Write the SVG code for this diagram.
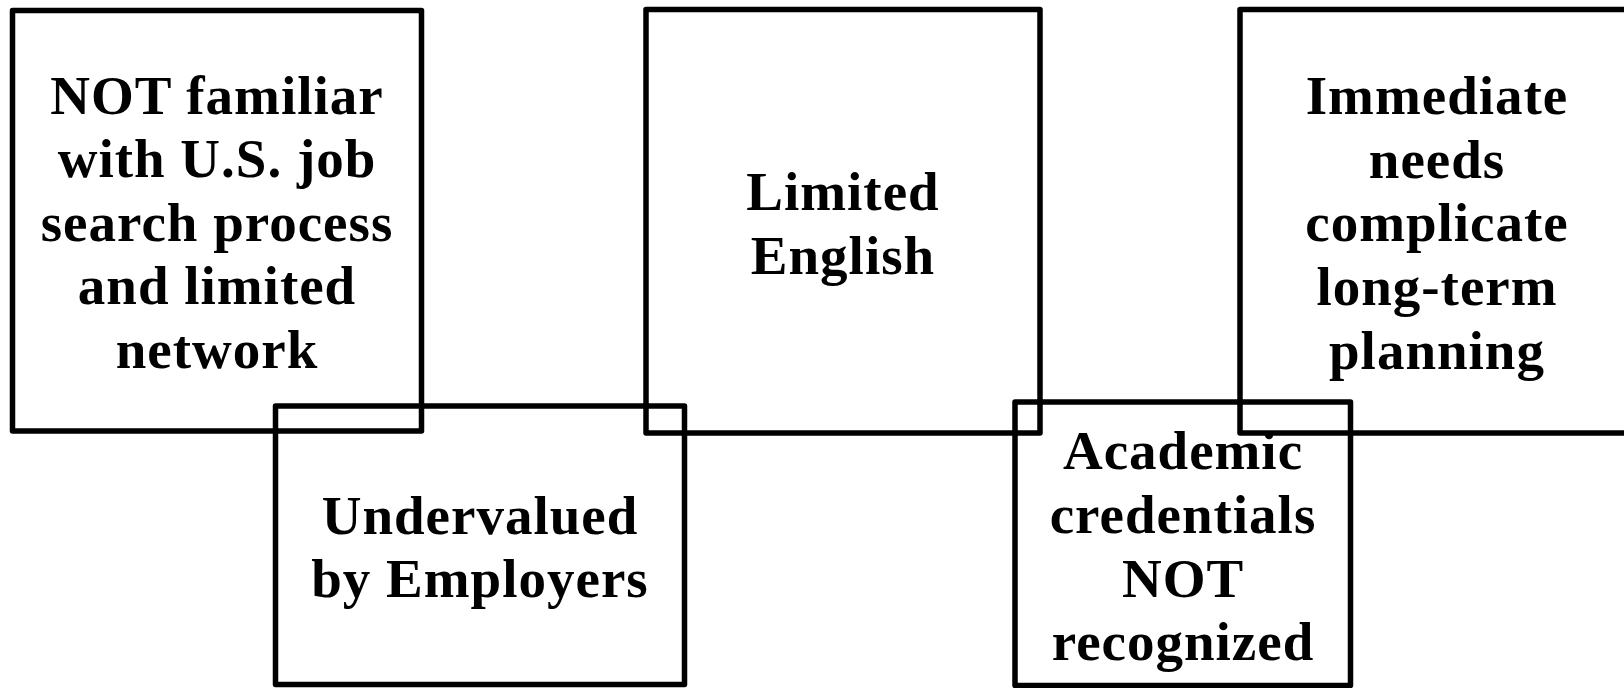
<svg xmlns="http://www.w3.org/2000/svg" width="1624" height="688" viewBox="0 0 1624 688">
<style>
.box{fill:none;stroke:#000;stroke-width:5.5;stroke-linejoin:round}
.t{font-family:"Liberation Serif","Times New Roman",serif;font-weight:bold;font-size:55px;letter-spacing:1px;fill:#000;text-anchor:middle}
</style>
<rect width="1624" height="688" fill="#fff"/>
<g id="connectors"></g>
<g id="node-network">
<rect class="box" x="12.5" y="10.5" width="409" height="420.5"/>
<text class="t" x="217" y="114">NOT familiar</text>
<text class="t" x="217" y="177">with U.S. job</text>
<text class="t" x="217" y="240.5">search process</text>
<text class="t" x="217" y="304">and limited</text>
<text class="t" x="217" y="367.5">network</text>
</g>
<g id="node-undervalued">
<rect class="box" x="275.5" y="406" width="409" height="278.5"/>
<text class="t" x="480" y="533.5">Undervalued</text>
<text class="t" x="480" y="596.5">by Employers</text>
</g>
<g id="node-english">
<rect class="box" x="646" y="9.5" width="394" height="423.5"/>
<text class="t" x="843" y="210">Limited</text>
<text class="t" x="843" y="273.5">English</text>
</g>
<g id="node-academic">
<rect class="box" x="1015" y="402" width="335.5" height="283.5"/>
<text class="t" x="1183" y="469">Academic</text>
<text class="t" x="1183" y="532.5">credentials</text>
<text class="t" x="1183" y="596.5">NOT</text>
<text class="t" x="1183" y="659.5">recognized</text>
</g>
<g id="node-immediate">
<rect class="box" x="1240" y="9.5" width="394" height="423.5"/>
<text class="t" x="1437" y="114">Immediate</text>
<text class="t" x="1437" y="178">needs</text>
<text class="t" x="1437" y="241">complicate</text>
<text class="t" x="1437" y="305">long-term</text>
<text class="t" x="1437" y="368.5">planning</text>
</g>
</svg>
